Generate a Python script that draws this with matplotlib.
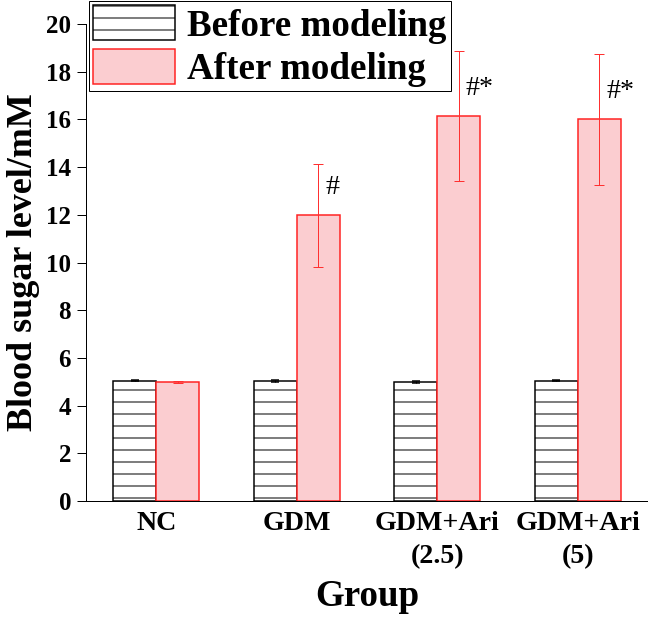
import matplotlib
matplotlib.use("Agg")
import matplotlib.pyplot as plt
import numpy as np

# ==== data ====
groups = ["NC", "GDM", "GDM+Ari\n(2.5)", "GDM+Ari\n(5)"]
before = [5.05, 5.04, 4.99, 5.05]
before_err = [0.03, 0.03, 0.03, 0.02]
after = [4.98, 11.98, 16.15, 16.01]
after_err = [0.05, 2.15, 2.72, 2.74]
marks = ["", "#", "#*", "#*"]

# ==== style ====
plt.rcParams["font.family"] = ["Liberation Serif", "DejaVu Serif"]
plt.rcParams["font.weight"] = "bold"
plt.rcParams["hatch.linewidth"] = 1.0

# dpi 72 so that 1 pt == 1 px (hatch spacing ~12 px like the original)
fig = plt.figure(figsize=(648 / 72, 618 / 72), dpi=72)
ax = fig.add_axes([86 / 648, 1 - 501 / 618, 562 / 648, 477 / 618])

x = np.arange(len(groups))
w = 0.305

ax.bar(x - w / 2, before, w, color="white", edgecolor="black", linewidth=1.5,
       hatch="-", label="Before modeling")
ax.errorbar(x - w / 2, before, yerr=before_err, fmt="none", ecolor="black",
            elinewidth=1, capsize=4, capthick=1.5)

ax.bar(x + w / 2, after, w, color="#fbcdd0", edgecolor="#ff2020", linewidth=1.5,
       label="After modeling")
ax.errorbar(x + w / 2, after, yerr=after_err, fmt="none", ecolor="#ff3030",
            elinewidth=1, capsize=5, capthick=1)

# significance marks
for i, m in enumerate(marks):
    if m:
        ax.text(x[i] + w / 2 + 0.05, after[i] + 1.15, m, ha="left", va="center",
                fontsize=28, fontweight="normal")

ax.set_xlim(-0.5, 3.5)
ax.set_ylim(0, 20)
ax.set_yticks(np.arange(0, 21, 2))
ax.set_xticks(x)
ax.set_xticklabels(groups, fontsize=28, fontweight="bold", linespacing=1.45)
ax.tick_params(axis="x", length=0, pad=10)
ax.tick_params(axis="y", length=9, width=1, direction="out", labelsize=25, pad=6)
for lab in ax.get_yticklabels():
    lab.set_fontweight("bold")

ax.spines["top"].set_visible(False)
ax.spines["right"].set_visible(False)
ax.spines["left"].set_linewidth(1)
ax.spines["bottom"].set_linewidth(1)

ax.set_ylabel("Blood sugar level/mM", fontsize=36, fontweight="bold")
ax.yaxis.set_label_coords(-0.082, 0.5)
ax.set_xlabel("Group", fontsize=37, fontweight="bold")
ax.xaxis.set_label_coords(0.5, -0.163)

leg = ax.legend(loc="upper left", bbox_to_anchor=(89 / 648, 1 - 1 / 618),
                bbox_transform=fig.transFigure, fontsize=37, frameon=True,
                fancybox=False, framealpha=1, edgecolor="black",
                handlelength=2.2, handleheight=1.08, labelspacing=0.14,
                handletextpad=0.33, borderpad=0.12, borderaxespad=0)
leg.get_frame().set_linewidth(1)
for t in leg.get_texts():
    t.set_fontweight("bold")

fig.savefig("out.png", dpi=72)
